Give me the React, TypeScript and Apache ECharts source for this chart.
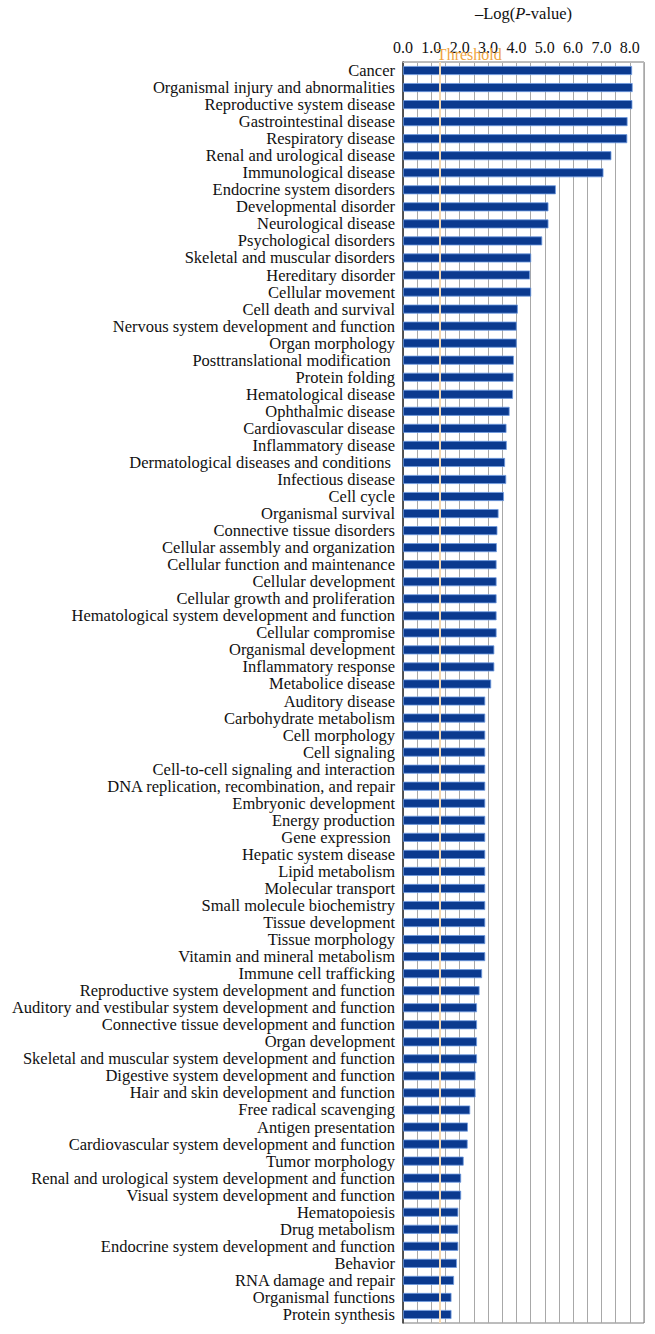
import React, { useEffect, useRef } from "react";
import * as echarts from "echarts";

const categories: string[] = [
  "Cancer",
  "Organismal injury and abnormalities",
  "Reproductive system disease",
  "Gastrointestinal disease",
  "Respiratory disease",
  "Renal and urological disease",
  "Immunological disease",
  "Endocrine system disorders",
  "Developmental disorder",
  "Neurological disease",
  "Psychological disorders",
  "Skeletal and muscular disorders",
  "Hereditary disorder",
  "Cellular movement",
  "Cell death and survival",
  "Nervous system development and function",
  "Organ morphology",
  "Posttranslational modification ",
  "Protein folding",
  "Hematological disease",
  "Ophthalmic disease",
  "Cardiovascular disease",
  "Inflammatory disease",
  "Dermatological diseases and conditions ",
  "Infectious disease",
  "Cell cycle",
  "Organismal survival",
  "Connective tissue disorders",
  "Cellular assembly and organization",
  "Cellular function and maintenance",
  "Cellular development",
  "Cellular growth and proliferation",
  "Hematological system development and function",
  "Cellular compromise",
  "Organismal development",
  "Inflammatory response",
  "Metabolice disease",
  "Auditory disease",
  "Carbohydrate metabolism",
  "Cell morphology",
  "Cell signaling",
  "Cell-to-cell signaling and interaction",
  "DNA replication, recombination, and repair",
  "Embryonic development",
  "Energy production",
  "Gene expression ",
  "Hepatic system disease",
  "Lipid metabolism",
  "Molecular transport",
  "Small molecule biochemistry",
  "Tissue development",
  "Tissue morphology",
  "Vitamin and mineral metabolism",
  "Immune cell trafficking",
  "Reproductive system development and function",
  "Auditory and vestibular system development and function",
  "Connective tissue development and function",
  "Organ development",
  "Skeletal and muscular system development and function",
  "Digestive system development and function",
  "Hair and skin development and function",
  "Free radical scavenging",
  "Antigen presentation",
  "Cardiovascular system development and function",
  "Tumor morphology",
  "Renal and urological system development and function",
  "Visual system development and function",
  "Hematopoiesis",
  "Drug metabolism",
  "Endocrine system development and function",
  "Behavior",
  "RNA damage and repair",
  "Organismal functions",
  "Protein synthesis",
];

const negLogP: number[] = [
  8.08, 8.1, 8.09, 7.92, 7.91, 7.35, 7.07, 5.39, 5.13, 5.13,
  4.91, 4.52, 4.48, 4.52, 4.05, 4.01, 4.01, 3.91, 3.9, 3.88,
  3.76, 3.65, 3.66, 3.6, 3.64, 3.56, 3.37, 3.33, 3.31, 3.3,
  3.3, 3.3, 3.3, 3.3, 3.22, 3.22, 3.11, 2.9, 2.9, 2.9,
  2.9, 2.9, 2.9, 2.9, 2.9, 2.9, 2.9, 2.9, 2.9, 2.9,
  2.9, 2.9, 2.9, 2.79, 2.7, 2.61, 2.61, 2.61, 2.61, 2.56,
  2.56, 2.37, 2.29, 2.28, 2.14, 2.05, 2.05, 1.95, 1.95, 1.95,
  1.9, 1.8, 1.71, 1.71,
];

const thresholdValue = 1.3;
const thresholdLabel = "Threshold";
const xTickLabels: number[] = [0, 1, 2, 3, 4, 5, 6, 7, 8];

const SERIF = "'Liberation Serif', 'DejaVu Serif', serif";

export default function App() {
  const ref = useRef<HTMLDivElement>(null);
  useEffect(() => {
    if (!ref.current) return;
    const chart = echarts.init(ref.current, undefined, { renderer: "svg" });
    chart.setOption({
      animation: false,
      backgroundColor: "#ffffff",
      grid: {
        left: 403,
        right: 11,
        top: 57,
        bottom: 11,
        show: true,
        borderColor: "#7a7a7a",
        borderWidth: 1,
      },
      xAxis: {
        type: "value",
        position: "top",
        min: 0,
        max: 8.5,
        interval: 0.5,
        name: "{a|\u2013Log(}{i|P}{a|-value)}",
        nameLocation: "middle",
        nameGap: 40,
        nameTextStyle: {
          rich: {
            a: { fontFamily: SERIF, fontSize: 16.5, color: "#111" },
            i: { fontFamily: SERIF, fontSize: 16.5, color: "#111", fontStyle: "italic" },
          },
        },
        axisLine: { show: true, lineStyle: { color: "#bbbbbb", width: 1 } },
        axisTick: { show: false },
        axisLabel: {
          fontFamily: SERIF,
          fontSize: 16,
          color: "#111",
          margin: 7,
          formatter: (v: number) =>
            xTickLabels.includes(v) ? v.toFixed(1) : "",
        },
        splitLine: { show: true, lineStyle: { color: "#a8a8a8", width: 1 } },
      },
      yAxis: {
        type: "category",
        inverse: true,
        data: categories,
        axisLine: { show: true, lineStyle: { color: "#333", width: 1.5 } },
        axisTick: { show: false },
        axisLabel: {
          interval: 0,
          fontFamily: SERIF,
          fontSize: 16.5,
          color: "#111",
          margin: 8,
        },
      },
      series: [
        {
          type: "bar",
          data: negLogP,
          barWidth: 9,
          itemStyle: {
            color: "#0b3a8f",
            borderColor: "#6f9be0",
            borderWidth: 0.8,
          },
          markLine: {
            silent: true,
            symbol: "none",
            lineStyle: { color: "#f3d7b0", width: 2, type: "solid" },
            label: {
              show: true,
              position: "start",
              formatter: thresholdLabel,
              fontFamily: SERIF,
              fontSize: 16,
              color: "#f0a540",
              align: "left",
              distance: 0,
              offset: [-3, 0],
            },
            data: [{ xAxis: thresholdValue }],
          },
        },
      ],
    });
    return () => chart.dispose();
  }, []);
  return (
    <div
      ref={ref}
      style={{ position: "absolute", left: 0, top: 0, width: 655, height: 1334 }}
    />
  );
}
